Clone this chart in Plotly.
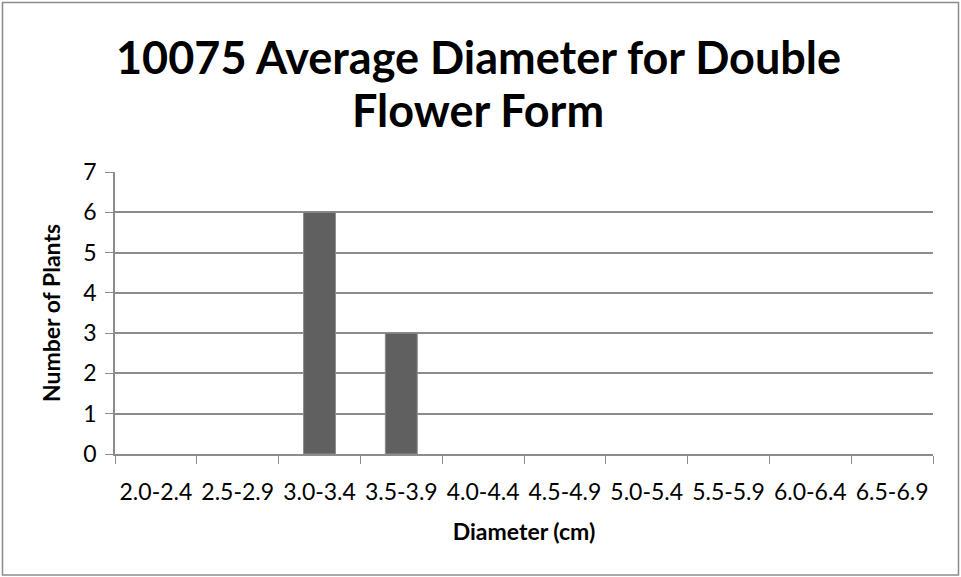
import plotly.graph_objects as go

# datos
rangos = ["2.0-2.4", "2.5-2.9", "3.0-3.4", "3.5-3.9", "4.0-4.4",
          "4.5-4.9", "5.0-5.4", "5.5-5.9", "6.0-6.4", "6.5-6.9"]
plantas = [0, 0, 6, 3, 0, 0, 0, 0, 0, 0]
y_ticks = [0, 1, 2, 3, 4, 5, 6, 7]
titulo = ["10075 Average Diameter for Double", "Flower Form"]

FONT = "Lato, Calibri, Arial, sans-serif"
GRIS = "#8c8c8c"

fig = go.Figure()
fig.add_trace(go.Bar(
    x=rangos, y=plantas,
    marker=dict(color="#606060",
                line=dict(color=GRIS, width=[1 if v else 0 for v in plantas])),
))

# margenes para ubicar el area de trazado como en la referencia
L, R, T, B = 115, 28, 172, 123
W, H = 961, 577
pw, ph = W - L - R, H - T - B


def py(ypix):
    """pixel (desde arriba) -> coordenada paper vertical"""
    return (H - B - ypix) / ph


def px_(xpix):
    return (xpix - L) / pw


fig.update_layout(
    width=W, height=H,
    margin=dict(l=L, r=R, t=T, b=B, autoexpand=False),
    paper_bgcolor="white", plot_bgcolor="white",
    bargap=0.61,
    showlegend=False,
    font=dict(family=FONT, color="black"),
    xaxis=dict(
        type="category", automargin=False, tickangle=0,
        tickson="boundaries", ticks="outside", ticklen=8, tickcolor=GRIS,
        showline=True, linecolor=GRIS, linewidth=1.5,
        showgrid=False,
        tickfont=dict(size=23), ticklabelstandoff=17,
        title=dict(text="<b>Diameter (cm)</b>", font=dict(size=23), standoff=20),
    ),
    yaxis=dict(
        range=[0, 7], tickvals=y_ticks, automargin=False,
        ticks="outside", ticklen=8, tickcolor=GRIS,
        showline=True, linecolor=GRIS, linewidth=1.5,
        showgrid=True, gridcolor=GRIS, gridwidth=1.5,
        zeroline=False,
        tickfont=dict(size=23), ticklabelstandoff=4,
        title=dict(text="<b>Number of Plants</b>", font=dict(size=23), standoff=16),
    ),
)

# titulo en dos lineas
for linea, ycen in zip(titulo, [57, 110]):
    fig.add_annotation(
        text=f"<b>{linea}</b>", xref="paper", yref="paper",
        x=px_(478), y=py(ycen), xanchor="center", yanchor="middle",
        showarrow=False, font=dict(size=45, family=FONT, color="black"),
    )

# borde exterior del grafico
fig.add_shape(
    type="rect", xref="paper", yref="paper",
    x0=px_(2.5), x1=px_(958.5), y0=py(575), y1=py(2.5),
    line=dict(color=GRIS, width=1.5), fillcolor="rgba(0,0,0,0)",
    layer="below",
)

fig.write_html("out.html", config={"displayModeBar": False},
               post_script="document.body.style.margin='0';")
